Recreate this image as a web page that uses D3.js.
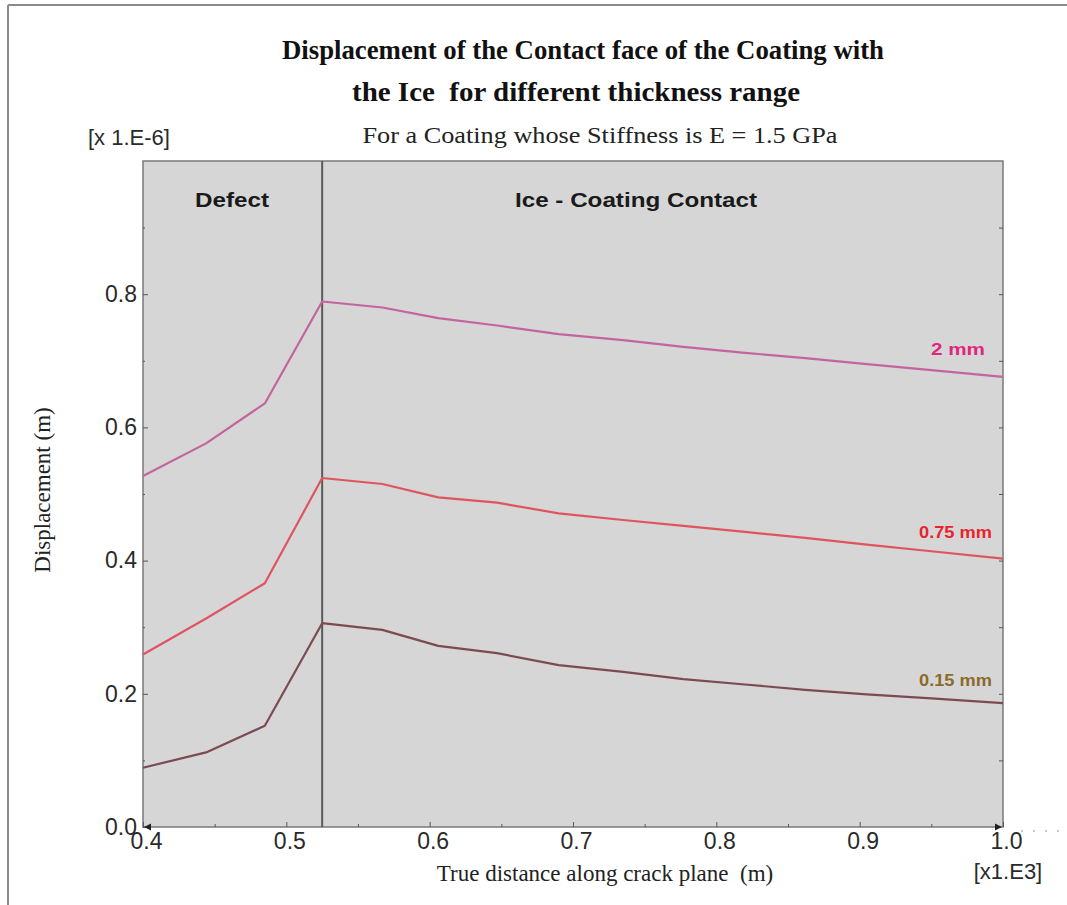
<!DOCTYPE html>
<html>
<head>
<meta charset="utf-8">
<script src="https://cdn.jsdelivr.net/npm/d3@7"></script>
<style>
  html, body { margin: 0; padding: 0; background: #ffffff; }
  svg { display: block; }
</style>
</head>
<body>
<svg id="chart" width="1067" height="905"></svg>
<script>
// Distance along the crack plane (x 1.E3 m)
const distance = [0.4, 0.444, 0.485, 0.525, 0.567, 0.606, 0.647, 0.69, 0.735, 0.777, 0.82, 0.862, 0.905, 0.95, 1.0];

// Displacement of the contact face (x 1.E-6 m) for each coating thickness
const disp2mm   = [0.527, 0.576, 0.636, 0.789, 0.780, 0.764, 0.753, 0.740, 0.731, 0.721, 0.712, 0.704, 0.695, 0.686, 0.676];
const disp075mm = [0.259, 0.313, 0.366, 0.524, 0.515, 0.495, 0.487, 0.471, 0.461, 0.452, 0.443, 0.434, 0.424, 0.414, 0.403];
const disp015mm = [0.089, 0.112, 0.152, 0.306, 0.296, 0.272, 0.261, 0.243, 0.233, 0.222, 0.214, 0.206, 0.199, 0.193, 0.186];

const seriesNames = ["2 mm", "0.75 mm", "0.15 mm"];
const lineColors  = ["#c4649e", "#de5560", "#7c4b52"];
const labelColors = ["#e0267f", "#e8232e", "#8c6a2c"];

const xTicks = [0.4, 0.5, 0.6, 0.7, 0.8, 0.9, 1.0];
const yTicks = [0.0, 0.2, 0.4, 0.6, 0.8];
const defectEnd = 0.525;

const svg = d3.select("#chart");

// outer frame
svg.append("line").attr("x1", 8).attr("x2", 1067).attr("y1", 5).attr("y2", 5)
  .attr("stroke", "#8a8a8a").attr("stroke-width", 2);
svg.append("line").attr("x1", 8).attr("x2", 8).attr("y1", 5).attr("y2", 905)
  .attr("stroke", "#8a8a8a").attr("stroke-width", 2);

const x = d3.scaleLinear().domain([0.4, 1.0]).range([143, 1003]);
const y = d3.scaleLinear().domain([0, 1.0]).range([827, 161]);

// plot background
svg.append("rect")
  .attr("x", x(0.4)).attr("y", y(1.0))
  .attr("width", x(1.0) - x(0.4)).attr("height", y(0) - y(1.0))
  .attr("fill", "#d6d6d6")
  .attr("stroke", "#7a7a7a").attr("stroke-width", 1.5);

// region divider
svg.append("line")
  .attr("x1", x(defectEnd)).attr("x2", x(defectEnd))
  .attr("y1", y(1.0)).attr("y2", y(0))
  .attr("stroke", "#5a5a5a").attr("stroke-width", 2);

// region captions
const sans = "Liberation Sans, Arial, sans-serif";
svg.append("text").text("Defect")
  .attr("x", 232).attr("y", 207)
  .attr("text-anchor", "middle")
  .attr("font-family", sans).attr("font-weight", "bold").attr("font-size", 20)
  .attr("textLength", 74).attr("lengthAdjust", "spacingAndGlyphs")
  .attr("fill", "#1a1a1a");
svg.append("text").text("Ice - Coating Contact")
  .attr("x", 636).attr("y", 207)
  .attr("text-anchor", "middle")
  .attr("font-family", sans).attr("font-weight", "bold").attr("font-size", 20)
  .attr("textLength", 242).attr("lengthAdjust", "spacingAndGlyphs")
  .attr("fill", "#1a1a1a");

// axes
const yAxis = svg.append("g")
  .attr("transform", `translate(${x(0.4)},0)`)
  .call(d3.axisLeft(y).tickValues(yTicks).tickFormat(d3.format(".1f"))
        .tickSizeInner(-5).tickSizeOuter(0).tickPadding(6));
yAxis.select(".domain").remove();
yAxis.selectAll("line").attr("stroke", "#555");
yAxis.selectAll("text").attr("font-family", sans).attr("font-size", 23).attr("fill", "#2a2a2a");

const yMinor = svg.append("g")
  .attr("transform", `translate(${x(0.4)},0)`)
  .call(d3.axisLeft(y).tickValues([0.1, 0.3, 0.5, 0.7, 0.9]).tickFormat("")
        .tickSizeInner(-2).tickSizeOuter(0));
yMinor.select(".domain").remove();
yMinor.selectAll("line").attr("stroke", "#555");

const yRight = svg.append("g")
  .attr("transform", `translate(${x(1.0)},0)`)
  .call(d3.axisRight(y).tickValues(d3.range(1, 10).map(d => d / 10)).tickFormat("")
        .tickSizeInner(-4).tickSizeOuter(0));
yRight.select(".domain").remove();
yRight.selectAll("line").attr("stroke", "#555");

const xAxis = svg.append("g")
  .attr("transform", `translate(0,${y(0)})`)
  .call(d3.axisBottom(x).tickValues(xTicks).tickFormat(d3.format(".1f"))
        .tickSizeInner(-5).tickSizeOuter(0).tickPadding(6));
xAxis.select(".domain").remove();
xAxis.selectAll("line").attr("stroke", "#555");
xAxis.selectAll("text").attr("font-family", sans).attr("font-size", 23).attr("fill", "#2a2a2a")
  .attr("dx", 3);

const xMinor = svg.append("g")
  .attr("transform", `translate(0,${y(0)})`)
  .call(d3.axisBottom(x).tickValues([0.45, 0.55, 0.65, 0.75, 0.85, 0.95]).tickFormat("")
        .tickSizeInner(-3).tickSizeOuter(0));
xMinor.select(".domain").remove();
xMinor.selectAll("line").attr("stroke", "#555");

// axis end markers
svg.append("path")
  .attr("d", `M${x(0.4) + 1},${y(0)} l7,-3.5 l0,7 z`)
  .attr("fill", "#222");
svg.append("path")
  .attr("d", `M${x(1.0) - 1},${y(0)} l-7,-3.5 l0,7 z`)
  .attr("fill", "#222");
svg.append("line")
  .attr("x1", x(1.0) + 18).attr("x2", 1067).attr("y1", y(0) + 4).attr("y2", y(0) + 4)
  .attr("stroke", "#bbb").attr("stroke-width", 1.5).attr("stroke-dasharray", "2,10");

// data lines
const series = [disp2mm, disp075mm, disp015mm];
const line = d3.line().x((d, i) => x(distance[i])).y(d => y(d));

svg.append("g").selectAll("path")
  .data(series)
  .join("path")
  .attr("d", d => line(d))
  .attr("fill", "none")
  .attr("stroke", (d, i) => lineColors[i])
  .attr("stroke-width", 2.2)
  .attr("stroke-linejoin", "round");

// thickness labels near line ends
const labelOffsets = [{dx: -18, dy: -22, w: 54}, {dx: -11, dy: -21, w: 73}, {dx: -11, dy: -17, w: 73}];
svg.append("g").selectAll("text")
  .data(series)
  .join("text")
  .text((d, i) => seriesNames[i])
  .attr("x", (d, i) => x(distance[distance.length - 1]) + labelOffsets[i].dx)
  .attr("y", (d, i) => y(d[d.length - 1]) + labelOffsets[i].dy)
  .attr("text-anchor", "end")
  .attr("font-family", sans)
  .attr("font-weight", "bold")
  .attr("font-size", 17)
  .attr("textLength", (d, i) => labelOffsets[i].w)
  .attr("lengthAdjust", "spacingAndGlyphs")
  .attr("fill", (d, i) => labelColors[i]);

// titles
const serif = "Liberation Serif, 'Times New Roman', serif";
svg.append("text").text("Displacement of the Contact face of the Coating with")
  .attr("x", 583).attr("y", 59).attr("text-anchor", "middle")
  .attr("font-family", serif).attr("font-weight", "bold").attr("font-size", 27)
  .attr("textLength", 602).attr("lengthAdjust", "spacingAndGlyphs").attr("fill", "#111");
svg.append("text").text("the Ice  for different thickness range")
  .attr("x", 576).attr("y", 101).attr("text-anchor", "middle")
  .attr("font-family", serif).attr("font-weight", "bold").attr("font-size", 27)
  .attr("textLength", 448).attr("lengthAdjust", "spacingAndGlyphs").attr("fill", "#111")
  .style("white-space", "pre");
svg.append("text").text("For a Coating whose Stiffness is E = 1.5 GPa")
  .attr("x", 600).attr("y", 143).attr("text-anchor", "middle")
  .attr("font-family", serif).attr("font-size", 24)
  .attr("textLength", 475).attr("lengthAdjust", "spacingAndGlyphs").attr("fill", "#222");
svg.append("text").text("[x 1.E-6]")
  .attr("x", 88).attr("y", 145)
  .attr("font-family", sans).attr("font-size", 22).attr("fill", "#2a2a2a");

svg.append("text").text("Displacement (m)")
  .attr("transform", "translate(50,490) rotate(-90)")
  .attr("text-anchor", "middle")
  .attr("font-family", serif).attr("font-size", 23).attr("fill", "#222");

svg.append("text").text("True distance along crack plane  (m)")
  .attr("x", 605).attr("y", 881).attr("text-anchor", "middle")
  .attr("font-family", serif).attr("font-size", 23).attr("fill", "#222")
  .style("white-space", "pre");
svg.append("text").text("[x1.E3]")
  .attr("x", 1008).attr("y", 879).attr("text-anchor", "middle")
  .attr("font-family", sans).attr("font-size", 22).attr("fill", "#2a2a2a");
</script>
</body>
</html>
